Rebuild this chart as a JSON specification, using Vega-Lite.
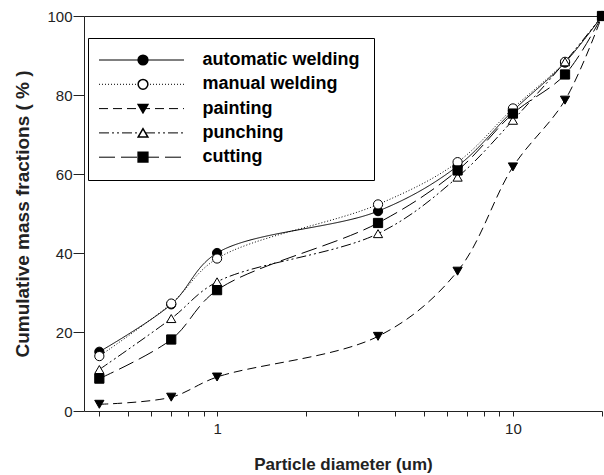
{
  "$schema": "https://vega.github.io/schema/vega-lite/v6.json",
  "width": 518,
  "height": 395,
  "autosize": {"type": "none"},
  "padding": {"left": 84, "top": 16, "right": 2, "bottom": 64},
  "background": "white",
  "config": {
    "view": {"stroke": null},
    "font": "Liberation Sans",
    "axis": {
      "grid": false,
      "domainColor": "#222",
      "tickColor": "#222",
      "labelColor": "#222",
      "titleColor": "#222",
      "labelFont": "Liberation Sans",
      "titleFont": "Liberation Sans",
      "labelFontSize": 15,
      "titleFontSize": 17,
      "titleFontWeight": "bold"
    }
  },
  "data": {
    "values": [
      {"series": "automatic welding", "d": 0.4, "y": 15},
      {"series": "automatic welding", "d": 0.7, "y": 27},
      {"series": "automatic welding", "d": 1, "y": 40},
      {"series": "automatic welding", "d": 3.5, "y": 50.6},
      {"series": "automatic welding", "d": 6.5, "y": 62},
      {"series": "automatic welding", "d": 10, "y": 76},
      {"series": "automatic welding", "d": 15, "y": 88.2},
      {"series": "automatic welding", "d": 20, "y": 100},
      {"series": "manual welding", "d": 0.4, "y": 13.9},
      {"series": "manual welding", "d": 0.7, "y": 27.2},
      {"series": "manual welding", "d": 1, "y": 38.6},
      {"series": "manual welding", "d": 3.5, "y": 52.3},
      {"series": "manual welding", "d": 6.5, "y": 63},
      {"series": "manual welding", "d": 10, "y": 76.6},
      {"series": "manual welding", "d": 15, "y": 88.4},
      {"series": "manual welding", "d": 20, "y": 100},
      {"series": "painting", "d": 0.4, "y": 1.7},
      {"series": "painting", "d": 0.7, "y": 3.5},
      {"series": "painting", "d": 1, "y": 8.6},
      {"series": "painting", "d": 3.5, "y": 18.9},
      {"series": "painting", "d": 6.5, "y": 35.4},
      {"series": "painting", "d": 10, "y": 61.8},
      {"series": "painting", "d": 15, "y": 78.7},
      {"series": "painting", "d": 20, "y": 100},
      {"series": "punching", "d": 0.4, "y": 10.5},
      {"series": "punching", "d": 0.7, "y": 23.4},
      {"series": "punching", "d": 1, "y": 32.7},
      {"series": "punching", "d": 3.5, "y": 44.9},
      {"series": "punching", "d": 6.5, "y": 59.2},
      {"series": "punching", "d": 10, "y": 73.6},
      {"series": "punching", "d": 15, "y": 88.4},
      {"series": "punching", "d": 20, "y": 100},
      {"series": "cutting", "d": 0.4, "y": 8.2},
      {"series": "cutting", "d": 0.7, "y": 18.1},
      {"series": "cutting", "d": 1, "y": 30.6},
      {"series": "cutting", "d": 3.5, "y": 47.6},
      {"series": "cutting", "d": 6.5, "y": 60.9},
      {"series": "cutting", "d": 10, "y": 75.3},
      {"series": "cutting", "d": 15, "y": 85.2},
      {"series": "cutting", "d": 20, "y": 100}
    ]
  },
  "resolve": {"axis": {"x": "independent"}},
  "layer": [
    {
      "mark": {"type": "line", "interpolate": "catmull-rom", "color": "black", "strokeWidth": 1},
      "encoding": {
        "x": {
          "field": "d", "type": "quantitative",
          "scale": {"type": "log", "domain": [0.355, 20], "nice": false, "zero": false},
          "axis": {
            "orient": "bottom",
            "title": "Particle diameter (um)",
            "values": [0.4, 0.5, 0.6, 0.7, 0.8, 0.9, 1, 2, 3, 4, 5, 6, 7, 8, 9, 10, 20],
            "labelExpr": "datum.value == 1 || datum.value == 10 ? format(datum.value, 'd') : ''",
            "tickSize": 5,
            "labelPadding": 5,
            "titlePadding": 20
          }
        },
        "y": {
          "field": "y", "type": "quantitative",
          "scale": {"domain": [0, 100], "nice": false},
          "axis": {
            "title": "Cumulative mass fractions ( % )",
            "titleFontSize": 19,
            "values": [0, 20, 40, 60, 80, 100],
            "tickSize": 11,
            "labelPadding": 1,
            "titlePadding": 14
          }
        },
        "detail": {"field": "series"},
        "strokeDash": {
          "field": "series", "type": "nominal",
          "scale": {
            "domain": ["automatic welding", "manual welding", "painting", "punching", "cutting"],
            "range": [[1, 0], [1, 2], [9, 5], [10, 3, 2, 3, 2, 3], [16, 6]]
          },
          "legend": {
            "orient": "none",
            "legendX": 4,
            "legendY": 22,
            "padding": 10,
            "strokeColor": "black",
            "zindex": 1,
            "title": ".",
            "titleOrient": "right",
            "titleOpacity": 0,
            "titleFontSize": 8,
            "titlePadding": 1,
            "symbolType": "stroke",
            "symbolSize": 7225,
            "symbolStrokeColor": "black",
            "symbolStrokeWidth": 1,
            "symbolOffset": 0.5,
            "clipHeight": 24,
            "rowPadding": 0.3,
            "labelFont": "Liberation Sans",
            "labelFontSize": 18,
            "labelFontWeight": "bold",
            "labelColor": "black",
            "labelOffset": 18,
            "labelLimit": 400
          }
        }
      }
    },
    {
      "mark": {"type": "point", "filled": true, "stroke": "black", "strokeWidth": 1, "size": 85, "opacity": 1},
      "encoding": {
        "x": {
          "field": "d", "type": "quantitative",
          "scale": {"type": "log", "domain": [0.355, 20], "nice": false, "zero": false},
          "axis": {"orient": "top", "title": null, "labels": false, "ticks": false, "domain": true}
        },
        "y": {"field": "y", "type": "quantitative"},
        "shape": {
          "field": "series", "type": "nominal", "sort": null,
          "scale": {"range": ["circle", "circle", "triangle-down", "triangle-up", "square"]},
          "legend": {
            "orient": "none",
            "legendX": 43,
            "legendY": 22,
            "padding": 10,
            "zindex": 2,
            "title": null,
            "symbolSize": 95,
            "symbolOffset": 0,
            "clipHeight": 24,
            "rowPadding": 0.3,
            "labelFontSize": 1,
            "labelOpacity": 0,
            "encode": {"symbols": {
              "fill": {"value": {"expr": "scale('fill', datum.value)"}},
              "stroke": {"value": "black"},
              "strokeWidth": {"value": 1},
              "opacity": {"value": 1}
            }}
          }
        },
        "fill": {
          "field": "series", "type": "nominal", "sort": null,
          "scale": {"range": ["black", "white", "black", "white", "black"]},
          "legend": null
        }
      }
    }
  ]
}
